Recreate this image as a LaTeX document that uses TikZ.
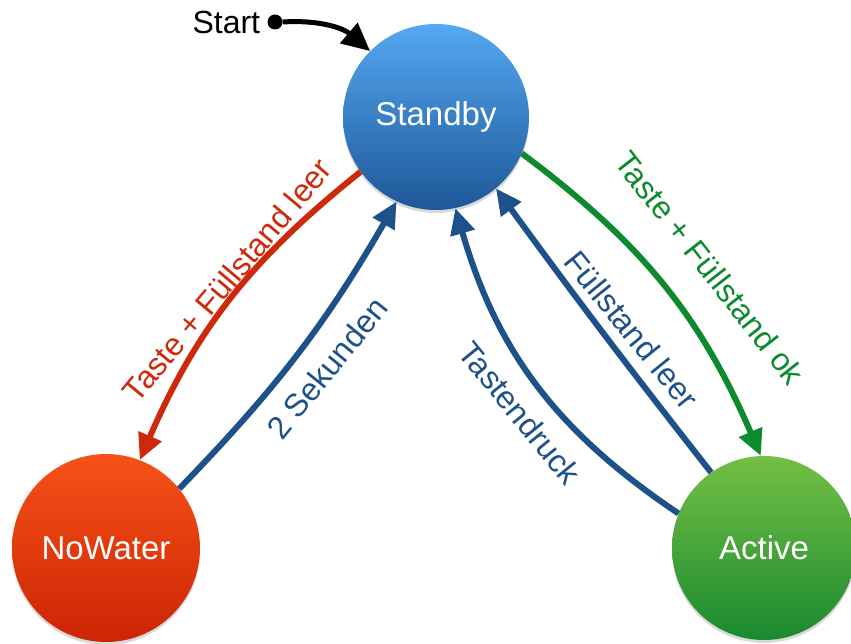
\documentclass[tikz,border=0pt]{standalone}
\usepackage{fontspec}
\setmainfont{Liberation Sans}
\usetikzlibrary{arrows.meta,shadows}
\definecolor{sbtop}{HTML}{55A8F2}
\definecolor{sbbot}{HTML}{1D5797}
\definecolor{nwtop}{HTML}{F65217}
\definecolor{nwbot}{HTML}{CC2405}
\definecolor{actop}{HTML}{74BF45}
\definecolor{acbot}{HTML}{1A8A30}
\definecolor{redl}{HTML}{CD2A0C}
\definecolor{greenl}{HTML}{0E8A2E}
\definecolor{bluel}{HTML}{1D5189}
\begin{document}
\begin{tikzpicture}[x=1pt,y=1pt,
  state/.style={circle, inner sep=0pt, minimum size=186pt, text=white,
    font=\fontsize{33}{40}\selectfont,
    drop shadow={opacity=0.3, shadow xshift=0pt, shadow yshift=-3pt}},
  lbl/.style={font=\fontsize{32}{38}\selectfont, inner sep=0pt},
  conn/.style={line width=6pt, -{Triangle[length=26pt,width=24pt]}},
]
\useasboundingbox (0,0) rectangle (851,-644);

\node (Standby) [state, top color=sbtop, bottom color=sbbot] at (436,-117) {Standby};
\node (NoWater) [state, top color=nwtop, bottom color=nwbot, minimum size=188pt] at (106,-548) {NoWater};
\node (Active) [state, top color=actop, bottom color=acbot, minimum size=184pt] at (764,-548) {Active};

\node (dot) [circle, fill=black, inner sep=0pt, minimum size=15pt] at (275,-22) {};
\node (start) [lbl, anchor=east] at ([xshift=-7pt]dot.west) {Start};
\draw[line width=5pt, -{Triangle[length=28pt,width=26pt]}] (dot.east) to[bend left=22] (Standby.135);

\draw[conn, redl] (Standby.216) to[bend right=14] (NoWater.69);
\draw[conn, bluel] (NoWater.39) to[bend right=7] (Standby.245);
\draw[conn, greenl] (Standby.337) to[bend left=15] (Active.92);
\draw[conn, bluel] (Active.125) to[bend left=1] (Standby.310);
\draw[conn, bluel] (Active.158) to[bend left=20] (Standby.282);

\node (l1) [lbl, text=redl, rotate=50] at (227,-280) {Taste + Füllstand leer};
\node (l2) [lbl, text=bluel, rotate=51] at (327,-368) {2 Sekunden};
\node (l3) [lbl, text=greenl, rotate=-52] at (710,-268) {Taste + Füllstand ok};
\node (l4) [lbl, text=bluel, rotate=-51] at (632,-330) {Füllstand leer};
\node (l5) [lbl, text=bluel, rotate=-51] at (520,-413) {Tastendruck};
\end{tikzpicture}
\end{document}
